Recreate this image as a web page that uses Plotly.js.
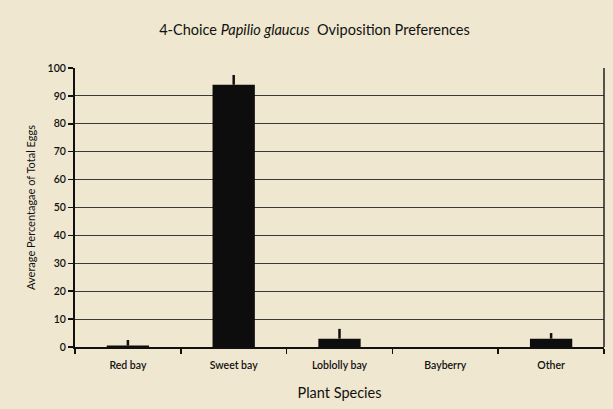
<!DOCTYPE html>
<html><head><meta charset="utf-8">
<script src="https://cdn.plot.ly/plotly-3.0.1.min.js"></script>
<style>body{margin:0;background:#efe7cf;}</style>
</head><body><div id="chart" style="width:613px;height:409px;"></div>
<script>
const categories = ["Red bay", "Sweet bay", "Loblolly bay", "Bayberry", "Other"];
const meanPercent = [0.5, 94, 3, 0, 3];
const errorUp = [2, 3.5, 3.5, 0, 2];
const yTicks = [0, 10, 20, 30, 40, 50, 60, 70, 80, 90, 100];

const trace = {
  type: "bar",
  x: categories,
  y: meanPercent,
  width: 0.4,
  marker: {color: "#0d0d0d", line: {width: 0}},
  error_y: {type: "data", symmetric: false, array: errorUp, arrayminus: errorUp.map(() => 0),
            color: "#111", thickness: 2.5, width: 0, visible: true},
  hoverinfo: "none"
};

const layout = {
  width: 613, height: 409,
  paper_bgcolor: "#efe7cf", plot_bgcolor: "#efe7cf",
  margin: {l: 75, r: 9, t: 68, b: 62},
  font: {family: "Lato, 'DejaVu Sans', sans-serif", color: "#111"},
  showlegend: false,
  title: {text: "4-Choice <i>Papilio glaucus</i>  Oviposition Preferences",
          font: {size: 14.5, color: "#111"}, x: 0.513, xanchor: "center", y: 0.927, yanchor: "middle", yref: "container"},
  xaxis: {
    showline: true, linecolor: "#111", linewidth: 2, mirror: false,
    ticks: "outside", tickson: "boundaries", ticklen: 5, tickwidth: 1.5, tickcolor: "#111",
    tickfont: {size: 10.5, weight: 600}, showgrid: false, ticklabelstandoff: 7,
    title: {text: "Plant Species", font: {size: 14.5}, standoff: 18}
  },
  yaxis: {
    range: [0, 100], tickvals: yTicks, ticktext: yTicks.map(String),
    showline: true, linecolor: "#111", linewidth: 2, mirror: false,
    ticks: "outside", ticklen: 5, tickwidth: 1.5, tickcolor: "#111",
    tickfont: {size: 10.5, weight: 600}, showgrid: true, gridcolor: "#3a3a3a", gridwidth: 1,
    zeroline: false,
    title: {text: "Average Percentagae of Total Eggs", font: {size: 11}, standoff: 10}
  },
  shapes: [{type: "line", xref: "paper", yref: "paper", x0: 1, x1: 1, y0: 0, y1: 1,
            line: {color: "#222", width: 1.5}}],
  bargap: 0.6
};

Plotly.newPlot("chart", [trace], layout, {staticPlot: true, displayModeBar: false});
</script></body></html>
